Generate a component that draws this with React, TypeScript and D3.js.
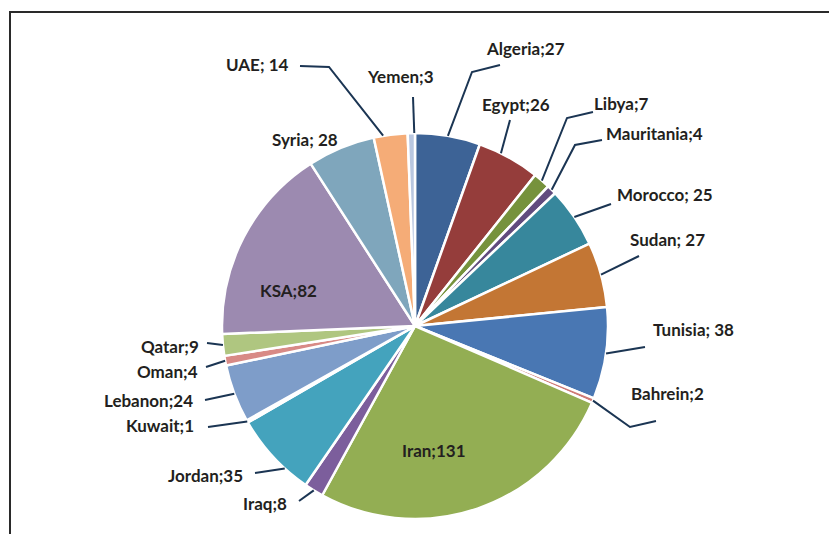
import React from "react";
import * as d3 from "d3";

const countries = ["Algeria","Egypt","Libya","Mauritania","Morocco","Sudan","Tunisia","Bahrein","Iran","Iraq","Jordan","Kuwait","Lebanon","Oman","Qatar","KSA","Syria","UAE","Yemen"];
const values = [27,26,7,4,25,27,38,2,131,8,35,1,24,4,9,82,28,14,3];
const labels = ["Algeria;27","Egypt;26","Libya;7","Mauritania;4","Morocco; 25","Sudan; 27","Tunisia; 38","Bahrein;2","Iran;131","Iraq;8","Jordan;35","Kuwait;1","Lebanon;24","Oman;4","Qatar;9","KSA;82","Syria; 28","UAE; 14","Yemen;3"];
const colors = ["#3D6396","#953D3B","#76923C","#614B7E","#37879C","#C37634","#4977B3","#CF7A75","#93AE53","#7C5E9C","#44A3BD","#E9913F","#7E9DC9","#D88A86","#AFC680","#9C8AB0","#7FA6BC","#F5AC77","#B9C7E0"];

// label layout: text left x, baseline y, leader elbow points, fraction within slice for leader end
type Lay = { x: number; y: number; pts: [number, number][]; frac?: number; noLeader?: boolean };
const layout: Lay[] = [
  { x: 487, y: 55, pts: [[500, 65], [472, 72]] },
  { x: 482, y: 111, pts: [[510, 120]], frac: 0.36 },
  { x: 594, y: 110, pts: [[593, 112], [567, 118]] },
  { x: 606, y: 140, pts: [[602, 140], [575, 145]] },
  { x: 617, y: 201, pts: [[611, 204]] },
  { x: 630, y: 246, pts: [[639, 256]] },
  { x: 653, y: 336, pts: [[645, 347]] },
  { x: 631, y: 400, pts: [[656, 421], [630, 427]] },
  { x: 402, y: 457, pts: [], noLeader: true },
  { x: 243, y: 510, pts: [[299, 501]] },
  { x: 168, y: 482, pts: [[255, 473]], frac: 0.31 },
  { x: 126, y: 432, pts: [[208, 427]] },
  { x: 104, y: 407, pts: [[205, 400]] },
  { x: 137, y: 378, pts: [[206, 367]] },
  { x: 141, y: 353, pts: [[207, 343]] },
  { x: 260, y: 297, pts: [], noLeader: true },
  { x: 272, y: 146, pts: [], noLeader: true },
  { x: 226, y: 71, pts: [[300, 66], [329, 67]], frac: 0.28 },
  { x: 368, y: 83, pts: [[413, 97]], frac: 0.9 },
];

const W = 829, H = 534;
const cx = 415, cy = 326, R = 193;

export default function App() {
  const data = countries.map((c, i) => ({ c, v: values[i], i }));
  const pie = d3.pie<any>().value((d: any) => d.v).sort(null).startAngle(0).endAngle(2 * Math.PI);
  const arcs = pie(data);
  const arc = d3.arc<any>().innerRadius(0).outerRadius(R);
  const line = d3.line();

  return (
    <svg width={W} height={H} style={{ position: "absolute", left: 0, top: 0, display: "block", background: "#fff" }}>
      <rect x={10} y={12} width={900} height={600} fill="#fff" stroke="#2a2a2a" strokeWidth={2} />
      <g transform={`translate(${cx},${cy})`}>
        {arcs.map((a, i) => (
          <path key={i} d={arc(a) as string} fill={colors[i]} stroke="#fff" strokeWidth={2.5} strokeLinejoin="round" />
        ))}
      </g>
      {arcs.map((a, i) => {
        const l = layout[i];
        if (l.noLeader) return null;
        const f = l.frac ?? 0.5;
        const ang = a.startAngle + (a.endAngle - a.startAngle) * f;
        const end: [number, number] = [cx + R * Math.sin(ang), cy - R * Math.cos(ang)];
        const pts = [...l.pts, end];
        return <path key={"l" + i} d={line(pts) as string} fill="none" stroke="#1B3553" strokeWidth={2} />;
      })}
      {arcs.map((a, i) => {
        const l = layout[i];
        return (
          <text key={"t" + i} x={l.x} y={l.y} fontFamily="Lato, 'Open Sans', sans-serif" fontWeight={700} fontSize={17} fill="#231F20">
            {labels[i]}
          </text>
        );
      })}
    </svg>
  );
}
